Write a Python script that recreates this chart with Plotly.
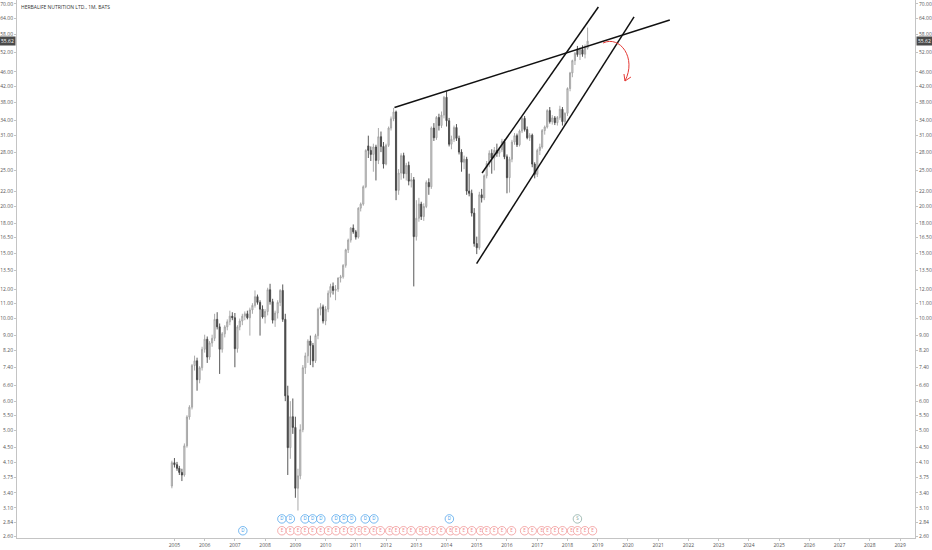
import math
import pandas as pd
import plotly.graph_objects as go

# monthly OHLC, split adjusted (Dec 2004 .. Sep 2018)
opens = [3.55, 4.10, 4.05, 3.96, 3.86, 3.80, 4.55, 5.44, 5.78, 7.48, 7.70, 6.85, 7.38,
         8.27, 8.80, 7.88, 8.60, 8.85, 9.95, 9.50, 8.27, 9.10, 9.50, 9.80, 10.15,
         10.05, 8.30, 9.50, 9.85, 10.15, 10.30, 10.05, 10.55, 10.85, 11.45, 11.05, 10.60,
         10.10, 10.45, 11.95, 11.10, 9.90, 10.35, 11.05, 11.90, 9.95, 6.20, 4.50, 5.45,
         5.10, 3.50, 3.78, 5.03, 7.38, 7.94, 8.70, 8.47, 7.70, 9.00, 10.60, 10.75,
         9.85, 10.60, 11.70, 12.20, 11.90, 12.00, 12.85, 12.95, 13.90, 15.30, 16.25, 17.50,
         17.10, 16.55, 19.80, 20.30, 22.60, 29.10, 28.30, 27.60, 28.90, 26.60, 30.80, 29.00,
         26.00, 29.20, 32.50, 34.40, 35.90, 22.10, 24.60, 27.40, 24.50, 25.80, 23.40, 23.60,
         16.60, 18.60, 20.30, 18.80, 20.00, 23.20, 22.60, 32.50, 30.60, 34.70, 33.00, 35.20,
         39.30, 34.00, 29.40, 30.30, 32.60, 30.50, 28.00, 26.30, 26.80, 22.00, 21.70, 19.20,
         15.90, 15.50, 21.50, 21.10, 24.20, 26.10, 27.80, 27.00, 28.30, 27.80, 28.40, 29.90,
         27.20, 23.90, 26.80, 29.80, 31.00, 29.30, 31.90, 34.50, 32.20, 30.60, 31.10, 26.00,
         24.40, 28.30, 28.90, 32.00, 32.70, 36.20, 33.80, 34.60, 33.60, 34.70, 36.50, 33.80,
         35.60, 41.50, 45.70, 49.30, 53.00, 51.20, 52.80, 51.30, 53.30]
highs = [4.15, 4.22, 4.12, 4.02, 3.95, 4.62, 5.50, 5.85, 7.55, 7.95, 7.85, 7.45, 8.40,
         9.05, 8.95, 8.70, 9.05, 10.30, 10.40, 9.70, 9.20, 9.60, 9.95, 10.50, 10.40,
         10.35, 9.60, 10.00, 10.30, 10.45, 10.50, 10.70, 11.00, 11.90, 11.60, 11.20, 10.85,
         10.60, 12.10, 12.40, 11.30, 10.50, 11.20, 12.00, 12.35, 10.30, 6.60, 6.00, 6.10,
         5.45, 3.95, 5.20, 7.50, 8.10, 8.80, 9.00, 8.60, 9.10, 10.70, 11.00, 10.90,
         10.80, 11.90, 12.40, 12.50, 12.30, 12.90, 13.10, 14.00, 15.40, 16.40, 17.60, 17.90,
         17.30, 19.90, 20.50, 22.80, 28.50, 31.00, 29.00, 29.50, 29.30, 32.50, 31.80, 29.80,
         29.50, 32.80, 34.90, 36.80, 36.20, 25.20, 27.80, 27.90, 26.20, 26.40, 24.60, 24.00,
         20.80, 21.10, 20.60, 20.40, 23.50, 23.80, 32.80, 33.50, 35.00, 35.50, 36.00, 39.60,
         40.80, 34.60, 31.00, 33.00, 33.30, 31.00, 28.50, 27.40, 27.20, 24.50, 22.20, 19.80,
         16.60, 21.90, 22.30, 24.40, 26.50, 28.30, 28.50, 28.90, 29.50, 28.90, 30.40, 30.30,
         27.60, 27.20, 30.20, 31.50, 31.40, 32.20, 34.80, 35.00, 32.80, 31.50, 31.40, 26.30,
         28.60, 29.50, 32.30, 33.00, 36.50, 37.00, 35.20, 35.00, 35.00, 37.30, 37.00, 35.80,
         41.80, 46.00, 49.60, 52.00, 54.00, 53.50, 54.20, 54.50, 60.50]
lows = [3.50, 3.98, 3.90, 3.80, 3.66, 3.76, 4.50, 5.35, 5.70, 7.25, 6.40, 6.70, 7.25,
        8.10, 7.60, 7.75, 8.40, 8.70, 9.35, 7.10, 8.10, 8.90, 9.30, 9.60, 9.90,
        7.40, 8.10, 9.30, 9.60, 9.90, 9.95, 9.00, 10.30, 10.70, 10.90, 9.00, 10.00,
        9.70, 10.20, 10.90, 9.70, 9.50, 10.00, 10.80, 9.80, 6.00, 3.80, 4.20, 4.90,
        3.30, 3.05, 3.70, 4.95, 7.10, 7.60, 7.50, 7.40, 7.60, 8.80, 10.20, 9.70,
        9.60, 10.40, 11.40, 11.60, 11.20, 11.80, 12.50, 12.80, 13.70, 15.00, 16.00, 16.90,
        16.30, 16.40, 19.40, 20.10, 22.40, 27.00, 26.50, 24.80, 23.50, 26.00, 28.00, 25.30,
        25.80, 28.90, 32.00, 33.90, 20.80, 21.50, 23.60, 23.80, 23.50, 22.80, 22.50, 12.20,
        16.20, 18.20, 18.40, 18.30, 19.80, 21.50, 22.30, 30.00, 30.20, 32.00, 32.50, 34.50,
        32.80, 29.00, 28.50, 29.80, 30.00, 27.60, 24.80, 25.20, 21.50, 21.30, 18.80, 15.60,
        14.90, 15.30, 20.50, 20.80, 23.80, 25.50, 24.50, 25.00, 27.20, 27.20, 28.00, 26.80,
        21.70, 21.80, 26.30, 29.30, 28.90, 29.00, 31.50, 31.80, 30.30, 30.00, 25.50, 23.80,
        24.00, 27.50, 28.60, 31.20, 32.40, 33.40, 33.20, 33.10, 33.00, 34.20, 33.00, 33.20,
        35.00, 40.80, 44.50, 48.00, 50.50, 49.50, 50.50, 50.00, 52.80]
closes = [4.10, 4.05, 3.96, 3.86, 3.80, 4.55, 5.44, 5.78, 7.48, 7.70, 6.85, 7.38, 8.27,
          8.80, 7.88, 8.60, 8.85, 9.95, 9.50, 8.27, 9.10, 9.50, 9.80, 10.15, 10.05,
          8.30, 9.50, 9.85, 10.15, 10.30, 10.05, 10.55, 10.85, 11.45, 11.05, 10.60, 10.10,
          10.45, 11.95, 11.10, 9.90, 10.35, 11.05, 11.90, 9.95, 6.20, 4.50, 5.45, 5.10,
          3.50, 3.78, 5.03, 7.38, 7.94, 8.70, 8.47, 7.70, 9.00, 10.60, 10.75, 9.85,
          10.60, 11.70, 12.20, 11.90, 12.00, 12.85, 12.95, 13.90, 15.30, 16.25, 17.50, 17.10,
          16.55, 19.80, 20.30, 22.60, 28.30, 28.30, 27.60, 28.90, 26.60, 30.80, 29.00, 26.00,
          29.20, 32.50, 34.40, 35.90, 22.10, 24.60, 27.40, 24.50, 25.80, 23.40, 23.60, 16.60,
          18.60, 20.30, 18.80, 20.00, 23.20, 22.60, 32.50, 30.60, 34.70, 33.00, 35.20, 39.30,
          34.00, 29.40, 30.30, 32.60, 30.50, 28.00, 26.30, 26.80, 22.00, 21.70, 19.20, 15.90,
          15.50, 21.50, 21.10, 24.20, 26.10, 27.80, 27.00, 28.30, 27.80, 28.40, 29.90, 27.20,
          23.90, 26.80, 29.80, 31.00, 29.30, 31.90, 34.50, 32.20, 30.60, 31.10, 26.00, 24.40,
          28.30, 28.90, 32.00, 32.70, 36.20, 33.80, 34.60, 33.60, 34.70, 36.50, 33.80, 35.60,
          41.50, 45.70, 49.30, 51.60, 51.20, 52.80, 51.30, 53.30, 55.62]
months = pd.date_range("2004-12-01", periods=len(closes), freq="MS")

last_price = 55.62
symbol_title = "HERBALIFE NUTRITION LTD., 1M, BATS"

price_ticks = [2.60, 2.84, 3.10, 3.40, 3.75, 4.10, 4.50, 5.00, 5.50, 6.00, 6.60, 7.40, 8.20,
               9.00, 10.00, 11.00, 12.00, 13.50, 15.00, 16.50, 18.00, 20.00, 22.00, 25.00,
               28.00, 31.00, 34.00, 38.00, 42.00, 46.00, 52.00, 58.00, 64.00, 70.00]
year_ticks = list(range(2005, 2030))

# drawn trendlines (two anchor points each)
resist_dates = ["2012-04-12", "2021-05-21"]
resist_prices = [36.9, 63.4]
chan_up_dates = ["2015-03-06", "2019-01-09"]
chan_up_prices = [24.6, 68.7]
chan_lo_dates = ["2014-12-30", "2020-03-15"]
chan_lo_prices = [14.05, 64.6]

# event bubbles at the bottom of the pane
div_dates_low = ["2007-04-07"]
div_dates_high = ["2008-07-22", "2008-11-01", "2009-04-28", "2009-07-28", "2009-11-04",
                  "2010-05-07", "2010-08-10", "2010-11-10", "2011-04-25", "2011-08-07",
                  "2014-02-04"]
split_dates = ["2018-05-01"]
earn_dates = ["2008-07-22", "2008-11-01", "2009-02-01", "2009-04-28", "2009-07-28",
              "2009-11-04", "2010-02-05", "2010-05-07", "2010-08-10", "2010-11-10",
              "2011-02-10", "2011-04-25", "2011-08-07", "2011-10-25", "2012-02-15",
              "2012-04-30", "2012-07-30", "2012-10-30", "2013-02-18", "2013-04-30",
              "2013-07-29", "2013-10-28", "2014-02-18", "2014-04-28", "2014-07-28",
              "2014-11-03", "2015-02-17", "2015-04-30", "2015-07-30", "2015-11-02",
              "2016-02-25", "2016-08-01", "2016-11-01", "2017-02-23", "2017-05-04",
              "2017-08-03", "2017-11-02", "2018-02-20", "2018-05-03", "2018-07-31",
              "2018-10-30"]

W, H = 932, 550
L_M, R_M, T_M, B_M = 17, 14, 0, 12
PW, PH = W - L_M - R_M, H - T_M - B_M
FONT = "Open Sans"
AXIS_COL = "#c4c4c4"
TXT_COL = "#555555"


def paper(x, y):
    return (x - L_M) / PW, 1 - (y - T_M) / PH


fig = go.Figure()

fig.add_trace(go.Candlestick(
    x=months, open=opens, high=highs, low=lows, close=closes,
    increasing=dict(line=dict(color="#a0a0a0", width=0.9), fillcolor="#dcdcdc"),
    decreasing=dict(line=dict(color="#454545", width=0.9), fillcolor="#454545"),
    whiskerwidth=0, showlegend=False, hoverinfo="skip",
))

for dts, prs in [(resist_dates, resist_prices), (chan_up_dates, chan_up_prices),
                 (chan_lo_dates, chan_lo_prices)]:
    fig.add_trace(go.Scatter(x=dts, y=prs, mode="lines",
                             line=dict(color="#111111", width=1.5),
                             showlegend=False, hoverinfo="skip"))

# dummy trace so the right price scale is drawn
fig.add_trace(go.Scatter(x=[months[0]], y=[closes[0]], yaxis="y2", mode="markers",
                         marker=dict(opacity=0), showlegend=False, hoverinfo="skip"))

ROW_LOW, ROW_HIGH = 0.0135, 0.0355


def bubbles(dates, row, letter, col):
    fig.add_trace(go.Scatter(
        x=dates, y=[row] * len(dates), yaxis="y3", mode="markers+text",
        text=[letter] * len(dates), textposition="middle center",
        textfont=dict(size=4.5, color=col, family=FONT),
        marker=dict(symbol="circle", size=8.5, color="white", line=dict(color=col, width=0.7)),
        showlegend=False, hoverinfo="skip", cliponaxis=False))


bubbles(earn_dates, ROW_LOW, "E", "#ef8a8a")
bubbles(div_dates_low, ROW_LOW, "D", "#3d9be9")
bubbles(div_dates_high, ROW_HIGH, "D", "#3d9be9")
bubbles(split_dates, ROW_HIGH, "S", "#7fa39a")

# 70 at y=4 px, 2.60 at the bottom edge of the pane
yrange = [0.4105, 1.8558]
yax = dict(type="log", range=yrange, autorange=False, tickvals=price_ticks,
           ticktext=[f"{v:.2f}" for v in price_ticks],
           tickfont=dict(size=5, color=TXT_COL, family=FONT),
           ticklabeloverflow="allow",
           showline=True, linecolor=AXIS_COL, linewidth=1, ticks="outside", ticklen=2,
           tickcolor=AXIS_COL, showgrid=False, zeroline=False, fixedrange=True)

fig.update_layout(
    width=W, height=H,
    margin=dict(l=L_M, r=R_M, t=T_M, b=B_M),
    paper_bgcolor="white", plot_bgcolor="white",
    xaxis=dict(type="date", range=["1999-10-18", "2029-06-30"], autorange=False,
               tickvals=[f"{y}-01-01" for y in year_ticks],
               ticktext=[str(y) for y in year_ticks],
               tickfont=dict(size=5, color=TXT_COL, family=FONT),
               showline=True, linecolor=AXIS_COL, ticks="outside", ticklen=2,
               tickcolor=AXIS_COL, showgrid=False, zeroline=False,
               rangeslider=dict(visible=False)),
    yaxis=dict(side="left", **yax),
    yaxis2=dict(side="right", overlaying="y", **yax),
    yaxis3=dict(overlaying="y", range=[0, 1], autorange=False, visible=False,
                fixedrange=True),
    showlegend=False,
)

# symbol title
tx, ty = paper(19, 7)
fig.add_annotation(x=tx, y=ty, xref="paper", yref="paper", text=symbol_title,
                   showarrow=False, xanchor="left", yanchor="middle",
                   font=dict(size=5, color="#333333", family=FONT))

# last price boxes on both scales
for xpos, anchor in [(0, "right"), (1, "left")]:
    fig.add_annotation(x=xpos, y=math.log10(last_price), xref="paper", yref="y",
                       text=f"{last_price:.2f}", showarrow=False, xanchor=anchor,
                       yanchor="middle", bgcolor="#4a4a4a", borderpad=1,
                       xshift=-1 if anchor == "right" else 1,
                       font=dict(size=5, color="white", family=FONT))

# red curved arrow
p0, c1, c2, p1 = paper(605, 43), paper(622, 35), paper(639, 58), paper(627, 81)
fig.add_shape(type="path", xref="paper", yref="paper",
              path=f"M {p0[0]},{p0[1]} C {c1[0]},{c1[1]} {c2[0]},{c2[1]} {p1[0]},{p1[1]}",
              line=dict(color="#e53935", width=1))
w1, w2 = paper(633, 77), paper(626, 74)
fig.add_shape(type="path", xref="paper", yref="paper",
              path=f"M {w1[0]},{w1[1]} L {p1[0]},{p1[1]} L {w2[0]},{w2[1]}",
              line=dict(color="#e53935", width=1))

# page body has a default 8px margin; drop it so the figure sits at the window corner
fig.write_html("out.html", config={"displayModeBar": False},
               post_script="document.body.style.margin='0';")
